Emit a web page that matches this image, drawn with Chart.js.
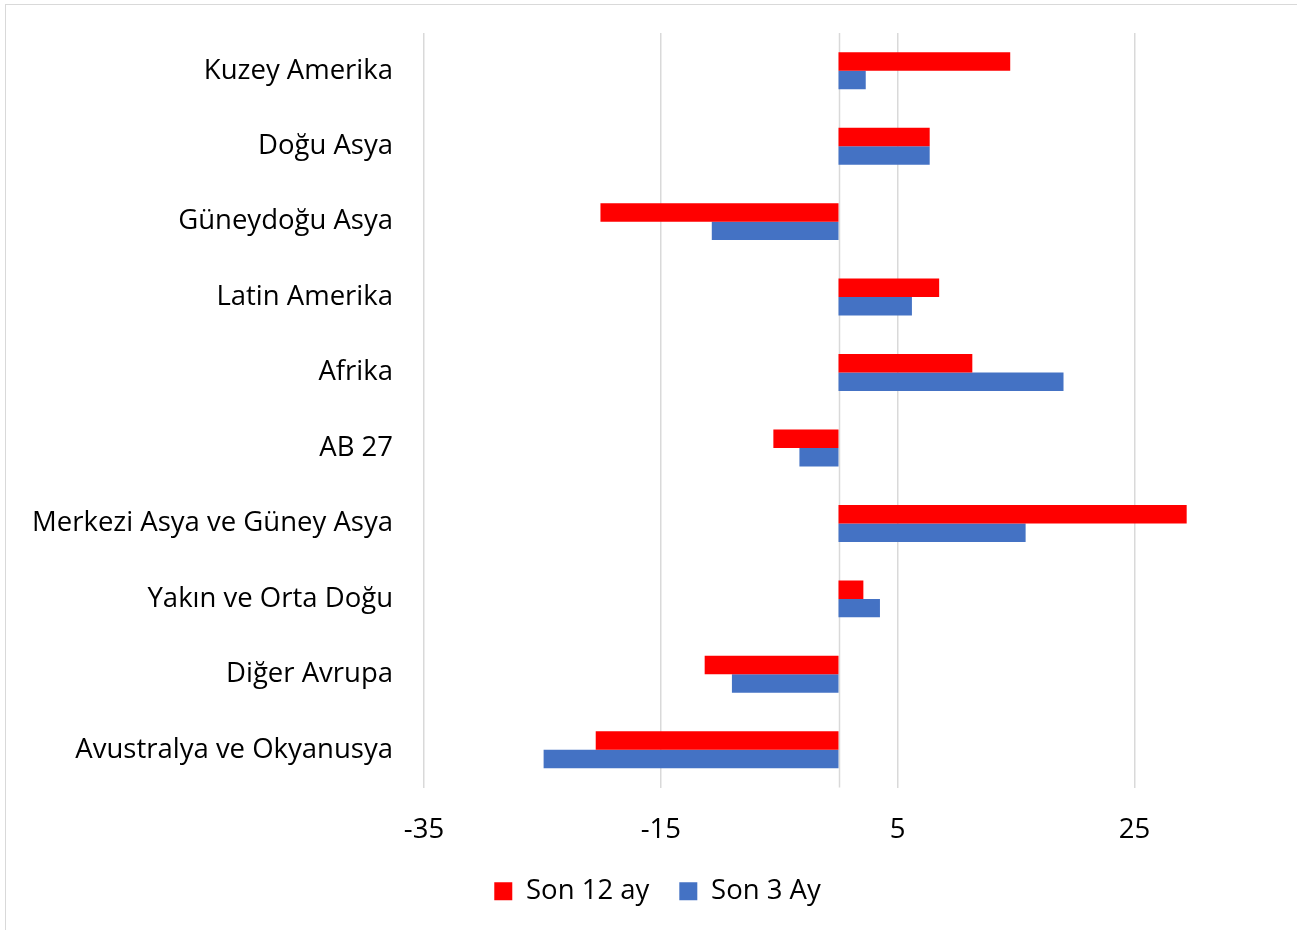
<!DOCTYPE html>
<html>
<head>
<meta charset="utf-8">
<script src="https://cdn.jsdelivr.net/npm/chart.js@4/dist/chart.umd.min.js"></script>
<style>
 body{margin:0;background:#fff;}
 #wrap{width:1297px;height:930px;}
</style>
</head>
<body>
<div id="wrap"><canvas id="chart" width="1297" height="930"></canvas></div>
<script>
const regions = ["Kuzey Amerika","Doğu Asya","Güneydoğu Asya","Latin Amerika","Afrika","AB 27","Merkezi Asya ve Güney Asya","Yakın ve Orta Doğu","Diğer Avrupa","Avustralya ve Okyanusya"];
const son12 = [14.5, 7.7, -20.1, 8.5, 11.3, -5.5, 29.4, 2.1, -11.3, -20.5];
const son3 = [2.3, 7.7, -10.7, 6.2, 19.0, -3.3, 15.8, 3.5, -9.0, -24.9];
const xTicks = [-35, -15, 5, 25];

const font = "Open Sans";
const fs = 27.5;

// zero line, outer frame, legend nudge
const extras = {
 id:"extras",
 afterLayout(chart){
  chart.legend.left += 62;
 },
 beforeDatasetsDraw(chart){
  const c=chart.ctx, a=chart.chartArea;
  const x0=Math.round(chart.scales.x.getPixelForValue(0))+0.5;
  c.save();
  c.strokeStyle="#d9d9d9";
  c.lineWidth=1.5;
  c.beginPath();c.moveTo(x0,a.top);c.lineTo(x0,a.bottom);c.stroke();
  c.restore();
 },
 afterDraw(chart){
  const c=chart.ctx;
  c.save();
  c.strokeStyle="#d9d9d9";
  c.lineWidth=1;
  c.strokeRect(5.5,4.5,1400,1000);
  c.restore();
 }
};

new Chart(document.getElementById("chart"),{
 type:"bar",
 data:{
  labels:regions,
  datasets:[
   {label:"Son 12 ay",data:son12,backgroundColor:"#ff0000"},
   {label:"Son 3 Ay",data:son3,backgroundColor:"#4472c4"}
  ]
 },
 options:{
  indexAxis:"y",
  responsive:false,
  animation:false,
  devicePixelRatio:1,
  layout:{padding:{top:33,right:44,bottom:15,left:0}},
  datasets:{bar:{barPercentage:1,categoryPercentage:0.49}},
  scales:{
   x:{
    min:-35,max:35,
    afterBuildTicks:s=>{s.ticks=xTicks.map(v=>({value:v}));},
    grid:{color:"#d9d9d9",lineWidth:1.5,drawTicks:false},
    border:{display:false},
    ticks:{color:"#000",font:{family:font,size:fs},padding:26},
    afterFit:s=>{s.height=60;}
   },
   y:{
    grid:{display:false,drawTicks:false},
    border:{display:false},
    ticks:{color:"#000",font:{family:font,size:fs},padding:31},
    afterFit:s=>{s.width=424;s.paddingTop=0;s.paddingBottom=0;}
   }
  },
  plugins:{
   legend:{
    position:"bottom",
    labels:{color:"#000",font:{family:font,size:fs},boxWidth:18,boxHeight:18,padding:30}
   },
   tooltip:{enabled:false}
  }
 },
 plugins:[extras]
});
</script>
</body>
</html>
